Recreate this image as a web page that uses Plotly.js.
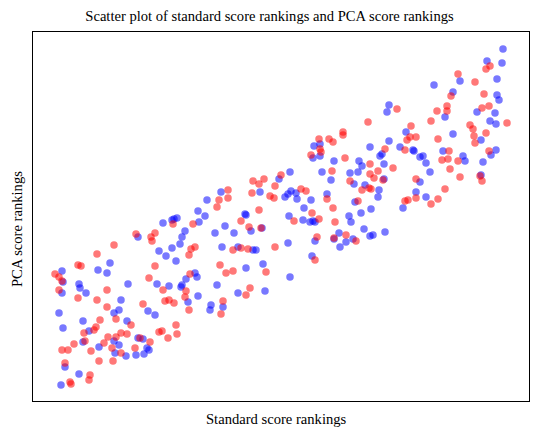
<!DOCTYPE html>
<html>
<head>
<meta charset="utf-8">
<script src="https://cdn.plot.ly/plotly-3.0.1.min.js"></script>
<style>html,body{margin:0;padding:0;background:#fff;}#chart{width:539px;height:435px;}</style>
</head>
<body>
<div id="chart"></div>
<script>
// Standard score ranking (x) and PCA score ranking (y)
const blueStandard = [107,82,103,54,42,51,6,7,101,72,23,24,30,6,65,63,58,92,99,3,27,71,7,33,82,87,27,58,63,43,59,70,80,88,91,93,9,23,5,
  204,165,151,142,149,189,190,116,118,121,143,206,195,169,159,178,129,126,124,116,110,166,182,197,200,
  120,190,207,139,141,130,126,125,113,161,182,209,142,132,155,154,167,
  258,264,264,257,333,314,326,324,278,303,306,234,266,294,302,223,275,298,328,309,323,322,235,232,229,240,241,271,255,299,
  248,233,247,254,257,259,293,295,305,315,308,329,314,317,283,278,297,290,259,284,232,256,234,
  447,431,446,404,441,378,441,443,397,389,421,439,434,440,333,331,350,397,425,
  344,357,358,364,367,370,374,387,407,409,427,435,440,425,364,360,370,347,328];
const bluePCA = [163,149,135,123,116,113,115,104,102,102,102,98,93,93,86,76,73,75,71,73,65,65,58,55,48,47,44,45,41,39,33,30,31,32,38,36,19,12,1,
  194,194,186,175,170,172,171,166,167,168,164,158,155,160,153,153,155,149,142,138,130,139,139,136,136,
  125,118,122,113,109,107,101,99,100,101,93,95,90,84,81,76,79,
  240,242,230,228,245,239,232,230,225,225,220,214,214,213,214,207,206,202,207,201,196,189,195,192,189,193,187,192,186,184,
  178,170,166,164,165,164,170,164,173,177,157,154,150,151,153,147,147,144,145,139,143,130,109,
  337,325,323,305,307,301,291,286,294,269,274,273,265,262,281,274,254,252,246,
  239,236,235,229,230,223,214,235,230,225,224,231,236,211,204,194,189,178,222];
const redStandard = [80,99,95,96,58,41,22,25,99,-1,3,6,93,51,3,107,22,41,51,87,109,44,60,75,40,38,28,52,60,65,71,103,106,84,94,29,18,48,56,79,6,12,35,65,43,57,9,34,33,14,15,
  197,203,208,219,196,214,218,172,163,172,161,203,117,137,185,193,205,135,139,133,185,177,192,219,
  164,170,177,210,134,130,129,194,190,113,118,167,133,165,120,121,112,
  312,287,287,273,277,263,264,265,255,329,289,314,276,322,314,225,294,318,327,306,313,315,245,250,271,302,
  277,238,256,263,279,290,278,300,261,259,
  434,430,402,419,428,395,391,391,381,433,426,451,375,341,355,354,360,351,414,417,418,430,382,
  419,349,393,386,392,402,394,404,433,424,426,337,360,389,349,352,360,382,375];
const redPCA = [152,153,149,145,141,132,121,120,120,112,109,105,108,96,96,96,88,86,79,82,85,66,67,61,59,56,53,49,49,53,52,54,55,48,44,45,42,43,38,38,36,36,35,33,25,25,23,11,6,4,2,
  205,202,207,200,193,190,188,196,186,188,179,176,162,162,165,159,158,137,139,131,138,136,137,139,
  121,113,115,114,112,95,89,98,91,86,83,85,76,72,61,52,48,
  264,254,251,247,244,247,237,234,231,237,228,222,215,215,212,211,205,208,206,196,198,197,197,195,187,185,
  178,165,173,167,164,151,148,145,149,126,
  320,317,312,304,292,290,280,275,275,280,278,263,265,277,260,249,249,246,261,257,250,253,247,
  243,236,235,226,227,225,217,209,235,210,205,218,207,197,185,186,188,187,182];

const serif = '"Liberation Serif", "Times New Roman", Times, serif';

const traces = [
  {x: blueStandard, y: bluePCA, type: 'scatter', mode: 'markers', name: 'blue',
   marker: {color: 'rgb(0,0,255)', opacity: 0.53, size: 7.5, line: {width: 0}}},
  {x: redStandard, y: redPCA, type: 'scatter', mode: 'markers', name: 'red',
   marker: {color: 'rgb(255,0,0)', opacity: 0.53, size: 7.5, line: {width: 0}}}
];

const layout = {
  width: 539, height: 435,
  margin: {l: 33, r: 10, t: 32, b: 34, pad: 0},
  paper_bgcolor: '#fff', plot_bgcolor: '#fff',
  showlegend: false,
  font: {family: serif, size: 14.6, color: '#000'},
  title: {text: 'Scatter plot of standard score rankings and PCA score rankings',
          font: {family: serif, size: 14.6, color: '#000'},
          x: 0.5, xref: 'container', xanchor: 'center',
          y: 0.964, yref: 'container', yanchor: 'middle'},
  xaxis: {range: [-23, 473], showgrid: false, zeroline: false, showticklabels: false, ticks: '',
          showline: true, mirror: true, linecolor: '#000', linewidth: 1, fixedrange: true},
  yaxis: {range: [-15, 354], showgrid: false, zeroline: false, showticklabels: false, ticks: '',
          showline: true, mirror: true, linecolor: '#000', linewidth: 1, fixedrange: true},
  annotations: [
    {text: 'Standard score rankings', xref: 'paper', yref: 'paper', x: 0.491, y: -0.0488,
     xanchor: 'center', yanchor: 'middle', showarrow: false, font: {family: serif, size: 14.6, color: '#000'}},
    {text: 'PCA score rankings', xref: 'paper', yref: 'paper', x: -0.0322, y: 0.466, textangle: -90,
     xanchor: 'center', yanchor: 'middle', showarrow: false, font: {family: serif, size: 14.6, color: '#000'}}
  ]
};

Plotly.newPlot('chart', traces, layout, {displayModeBar: false, staticPlot: true});
</script>
</body>
</html>
